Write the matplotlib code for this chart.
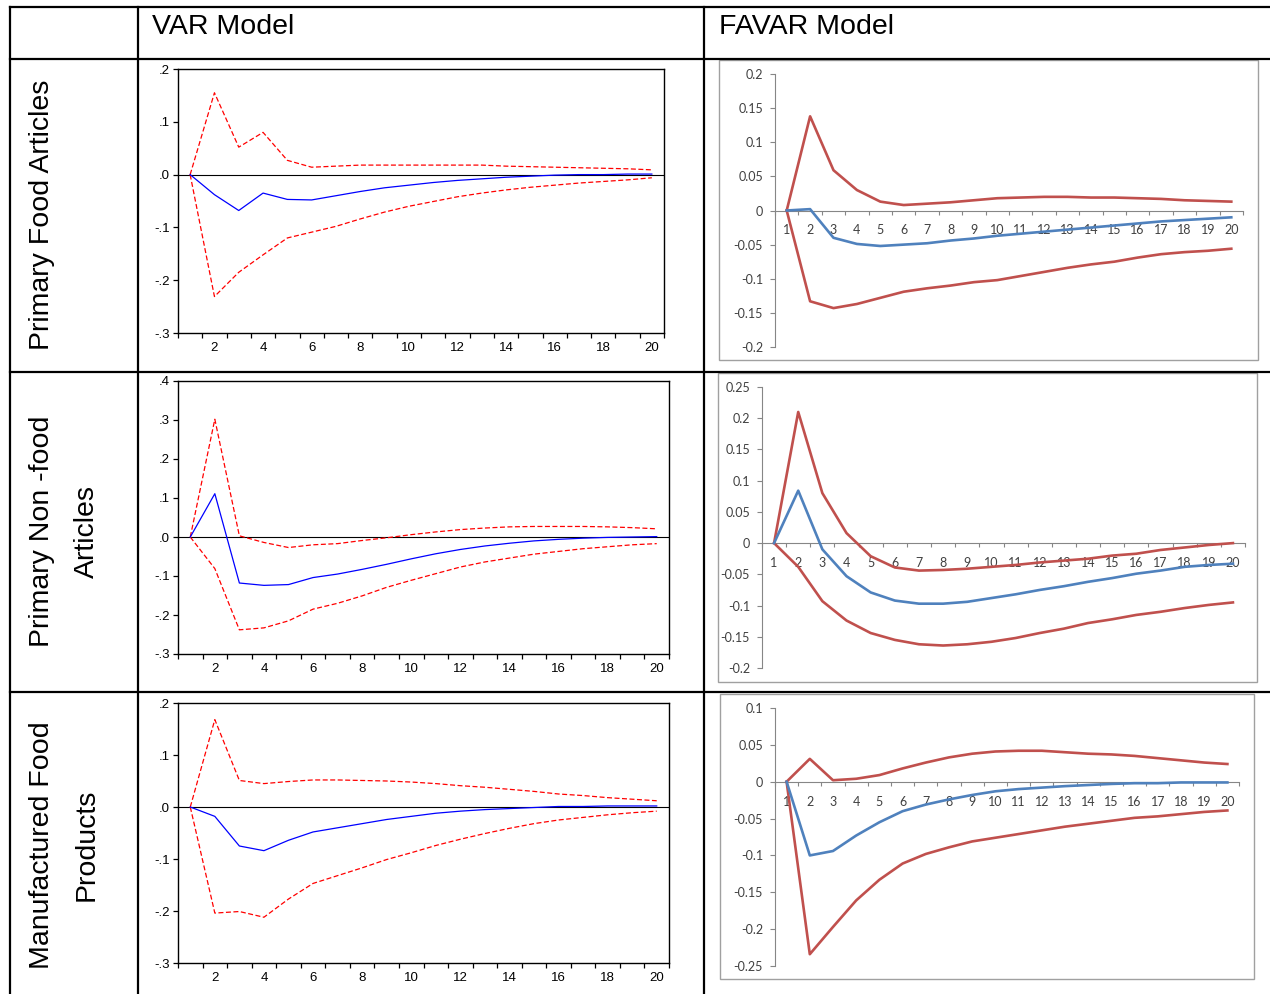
import matplotlib
matplotlib.use("Agg")
import matplotlib.pyplot as plt
from matplotlib.lines import Line2D
from matplotlib.patches import Rectangle
from matplotlib.ticker import FixedLocator

# ---------------- data ----------------
periods = list(range(1, 21))

# VAR model: Primary Food Articles
var_food_irf = [0, -0.038, -0.068, -0.035, -0.047, -0.048, -0.040, -0.032, -0.025, -0.020,
                -0.015, -0.011, -0.008, -0.005, -0.003, -0.001, 0.000, 0.000, 0.001, 0.001]
var_food_up = [0, 0.155, 0.052, 0.080, 0.027, 0.014, 0.016, 0.018, 0.018, 0.018,
               0.018, 0.018, 0.018, 0.016, 0.015, 0.014, 0.013, 0.012, 0.011, 0.009]
var_food_lo = [0, -0.231, -0.185, -0.152, -0.120, -0.109, -0.098, -0.084, -0.071, -0.060,
               -0.051, -0.042, -0.035, -0.029, -0.024, -0.020, -0.016, -0.013, -0.010, -0.006]

# VAR model: Primary Non-food Articles
var_nonfood_irf = [0, 0.111, -0.118, -0.124, -0.122, -0.104, -0.095, -0.083, -0.070, -0.056,
                   -0.043, -0.032, -0.023, -0.016, -0.010, -0.006, -0.003, -0.001, 0.000, 0.001]
var_nonfood_up = [0, 0.302, 0.003, -0.014, -0.027, -0.020, -0.017, -0.009, -0.002, 0.006,
                  0.013, 0.019, 0.023, 0.026, 0.027, 0.027, 0.027, 0.026, 0.024, 0.021]
var_nonfood_lo = [0, -0.081, -0.238, -0.233, -0.215, -0.185, -0.170, -0.151, -0.129, -0.111,
                  -0.094, -0.077, -0.064, -0.054, -0.044, -0.037, -0.030, -0.025, -0.020, -0.017]

# VAR model: Manufactured Food Products
var_manu_irf = [0, -0.018, -0.075, -0.084, -0.064, -0.048, -0.040, -0.032, -0.024, -0.018,
                -0.012, -0.008, -0.005, -0.003, -0.001, 0.001, 0.001, 0.002, 0.002, 0.002]
var_manu_up = [0, 0.168, 0.051, 0.045, 0.049, 0.052, 0.052, 0.051, 0.050, 0.048,
               0.045, 0.041, 0.038, 0.034, 0.030, 0.025, 0.022, 0.018, 0.015, 0.012]
var_manu_lo = [0, -0.204, -0.201, -0.212, -0.177, -0.147, -0.132, -0.117, -0.101, -0.088,
               -0.074, -0.062, -0.051, -0.041, -0.032, -0.025, -0.020, -0.015, -0.011, -0.008]

# FAVAR model: Primary Food Articles
favar_food_irf = [0, 0.002, -0.040, -0.049, -0.052, -0.050, -0.048, -0.044, -0.041, -0.037,
                  -0.034, -0.031, -0.028, -0.025, -0.022, -0.019, -0.016, -0.014, -0.012, -0.010]
favar_food_up = [0, 0.138, 0.059, 0.030, 0.013, 0.008, 0.010, 0.012, 0.015, 0.018,
                 0.019, 0.020, 0.020, 0.019, 0.019, 0.018, 0.017, 0.015, 0.014, 0.013]
favar_food_lo = [0, -0.133, -0.143, -0.137, -0.128, -0.119, -0.114, -0.110, -0.105, -0.102,
                 -0.096, -0.090, -0.084, -0.079, -0.075, -0.069, -0.064, -0.061, -0.059, -0.056]

# FAVAR model: Primary Non-food Articles
favar_nonfood_irf = [0, 0.084, -0.010, -0.053, -0.079, -0.092, -0.097, -0.097, -0.094, -0.088,
                     -0.082, -0.075, -0.069, -0.062, -0.056, -0.049, -0.044, -0.038, -0.035, -0.033]
favar_nonfood_up = [0, 0.210, 0.080, 0.016, -0.021, -0.039, -0.044, -0.043, -0.041, -0.038,
                    -0.035, -0.031, -0.028, -0.025, -0.020, -0.017, -0.011, -0.007, -0.003, 0.000]
favar_nonfood_lo = [0, -0.038, -0.093, -0.124, -0.144, -0.155, -0.162, -0.164, -0.162, -0.158,
                    -0.152, -0.144, -0.137, -0.128, -0.122, -0.115, -0.110, -0.104, -0.099, -0.095]

# FAVAR model: Manufactured Food Products
favar_manu_irf = [0, -0.100, -0.094, -0.073, -0.055, -0.040, -0.031, -0.024, -0.018, -0.013,
                  -0.010, -0.008, -0.006, -0.0045, -0.003, -0.002, -0.002, -0.001, -0.001, -0.001]
favar_manu_up = [0, 0.031, 0.002, 0.004, 0.009, 0.018, 0.026, 0.033, 0.038, 0.041,
                 0.042, 0.042, 0.040, 0.038, 0.037, 0.035, 0.032, 0.029, 0.026, 0.024]
favar_manu_lo = [0, -0.234, -0.197, -0.161, -0.133, -0.111, -0.098, -0.089, -0.081, -0.076,
                 -0.071, -0.066, -0.061, -0.057, -0.053, -0.049, -0.047, -0.044, -0.041, -0.039]

col_headers = ["VAR Model", "FAVAR Model"]
row_labels = [["Primary Food Articles"],
              ["Primary Non -food", "Articles"],
              ["Manufactured Food", "Products"]]

var_yticks = [[0.2, 0.1, 0.0, -0.1, -0.2, -0.3],
              [0.4, 0.3, 0.2, 0.1, 0.0, -0.1, -0.2, -0.3],
              [0.2, 0.1, 0.0, -0.1, -0.2, -0.3]]
var_yticklabels = [[".2", ".1", ".0", "-.1", "-.2", "-.3"],
                   [".4", ".3", ".2", ".1", ".0", "-.1", "-.2", "-.3"],
                   [".2", ".1", ".0", "-.1", "-.2", "-.3"]]
favar_yticks = [[0.2, 0.15, 0.1, 0.05, 0.0, -0.05, -0.1, -0.15, -0.2],
                [0.25, 0.2, 0.15, 0.1, 0.05, 0.0, -0.05, -0.1, -0.15, -0.2],
                [0.1, 0.05, 0.0, -0.05, -0.1, -0.15, -0.2, -0.25]]
favar_yticklabels = [["0.2", "0.15", "0.1", "0.05", "0", "-0.05", "-0.1", "-0.15", "-0.2"],
                     ["0.25", "0.2", "0.15", "0.1", "0.05", "0", "-0.05", "-0.1", "-0.15", "-0.2"],
                     ["0.1", "0.05", "0", "-0.05", "-0.1", "-0.15", "-0.2", "-0.25"]]

var_series = [(var_food_irf, var_food_up, var_food_lo),
              (var_nonfood_irf, var_nonfood_up, var_nonfood_lo),
              (var_manu_irf, var_manu_up, var_manu_lo)]
favar_series = [(favar_food_irf, favar_food_up, favar_food_lo),
                (favar_nonfood_irf, favar_nonfood_up, favar_nonfood_lo),
                (favar_manu_irf, favar_manu_up, favar_manu_lo)]

# ---------------- layout ----------------
W, H = 1270, 994
fig = plt.figure(figsize=(W / 100, H / 100), dpi=100)
fig.patch.set_facecolor("white")


def fx(x):
    return x / W


def fy(y):
    return 1 - y / H


def box(x0, y0, x1, y1):
    return [x0 / W, 1 - y1 / H, (x1 - x0) / W, (y1 - y0) / H]


ARIAL = "Liberation Sans"
EXCEL = "Lato"

# VAR panels (EViews style)
var_boxes = [(178, 69, 664, 333), (178, 381, 669, 654), (178, 703, 669, 963)]
var_ylims = [(-0.3, 0.2), (-0.3, 0.4), (-0.3, 0.2)]

for i in range(3):
    ax = fig.add_axes(box(*var_boxes[i]))
    irf, up, lo = var_series[i]
    ax.axhline(0, color="black", lw=0.8, zorder=1)
    ax.plot(periods, up, color="#FF0000", lw=0.9, ls=(0, (4, 2)), zorder=2)
    ax.plot(periods, lo, color="#FF0000", lw=0.9, ls=(0, (4, 2)), zorder=2)
    ax.plot(periods, irf, color="#0000FF", lw=0.9, zorder=3)
    ax.set_xlim(0.5, 20.5)
    ax.set_ylim(*var_ylims[i])
    ax.set_xticks(list(range(2, 21, 2)))
    ax.xaxis.set_minor_locator(FixedLocator([k + 0.5 for k in range(0, 21)]))
    ax.tick_params(axis="x", which="major", length=0, pad=6.5, labelsize=9.5)
    ax.tick_params(axis="x", which="minor", length=3.6, width=0.9, direction="out")
    ax.set_yticks(var_yticks[i])
    ax.set_yticklabels(var_yticklabels[i])
    ax.tick_params(axis="y", which="major", length=3.6, width=0.9, direction="out",
                   pad=2, labelsize=9.5)
    for lab in ax.get_xticklabels() + ax.get_yticklabels():
        lab.set_fontfamily(ARIAL)
    for s in ax.spines.values():
        s.set_linewidth(1.0)
        s.set_color("black")

# FAVAR panels (Excel style)
favar_frames = [(719, 60, 1258, 360), (718, 373, 1257, 682), (720, 694, 1254, 979)]
favar_boxes = [(775, 74, 1243, 347), (762, 387, 1245, 668), (775, 708, 1239, 966)]
favar_ylims = [(-0.2, 0.2), (-0.2, 0.25), (-0.25, 0.1)]
GREY = "#868686"

for i in range(3):
    x0, y0, x1, y1 = favar_frames[i]
    fig.add_artist(Rectangle((fx(x0), fy(y1)), (x1 - x0) / W, (y1 - y0) / H,
                             transform=fig.transFigure, fill=True, facecolor="white",
                             edgecolor="#A0A0A0", lw=1.0, zorder=0))
    ax = fig.add_axes(box(*favar_boxes[i]))
    ax.patch.set_alpha(0)
    irf, up, lo = favar_series[i]
    ax.plot(periods, up, color="#C0504D", lw=1.9, solid_joinstyle="round", zorder=3)
    ax.plot(periods, lo, color="#C0504D", lw=1.9, solid_joinstyle="round", zorder=3)
    ax.plot(periods, irf, color="#4F81BD", lw=1.9, solid_joinstyle="round", zorder=4)
    ax.set_xlim(0.5, 20.5)
    ax.set_ylim(*favar_ylims[i])
    ax.set_axisbelow(True)
    for side in ("top", "right"):
        ax.spines[side].set_visible(False)
    ax.spines["bottom"].set_position(("data", 0))
    ax.spines["bottom"].set_color(GREY)
    ax.spines["left"].set_color(GREY)
    ax.spines["bottom"].set_linewidth(0.8)
    ax.spines["left"].set_linewidth(0.8)
    ax.set_xticks(periods)
    ax.xaxis.set_minor_locator(FixedLocator([k + 0.5 for k in range(0, 21)]))
    ax.tick_params(axis="x", which="major", length=0, pad=10, labelsize=9,
                   labelcolor="#404040")
    ax.tick_params(axis="x", which="minor", length=3, width=0.8, color=GREY,
                   direction="out")
    ax.set_yticks(favar_yticks[i])
    ax.set_yticklabels(favar_yticklabels[i])
    ax.tick_params(axis="y", which="major", length=3.6, width=0.8, color=GREY,
                   direction="out", pad=5, labelsize=9, labelcolor="#404040")
    for lab in ax.get_xticklabels() + ax.get_yticklabels():
        lab.set_fontfamily(EXCEL)

# ---------------- table grid ----------------
LW = 1.6
lines = [
    ((10, 1270), (7, 7)),
    ((10, 1270), (59, 59)),
    ((10, 1270), (371.5, 371.5)),
    ((10, 1270), (692, 692)),
    ((10, 10), (7, 994)),
    ((138, 138), (7, 994)),
    ((703.5, 703.5), (7, 994)),
]
for xs, ys in lines:
    fig.add_artist(Line2D([fx(xs[0]), fx(xs[1])], [fy(ys[0]), fy(ys[1])],
                          transform=fig.transFigure, color="black", lw=LW,
                          solid_capstyle="projecting", zorder=10))

# headers
fig.text(fx(152), fy(34), col_headers[0], fontsize=20.5, family=ARIAL,
         ha="left", va="baseline")
fig.text(fx(719), fy(34), col_headers[1], fontsize=20.5, family=ARIAL,
         ha="left", va="baseline")

# row labels
row_centers = [215, 531, 845]
line_x = [42, 87]
for r in range(3):
    labels = row_labels[r]
    for j, t in enumerate(labels):
        fig.text(fx(line_x[j]), fy(row_centers[r]), t, fontsize=20.5, family=ARIAL,
                 rotation=90, ha="center", va="center")

fig.savefig("out.png", dpi=100, facecolor="white")
